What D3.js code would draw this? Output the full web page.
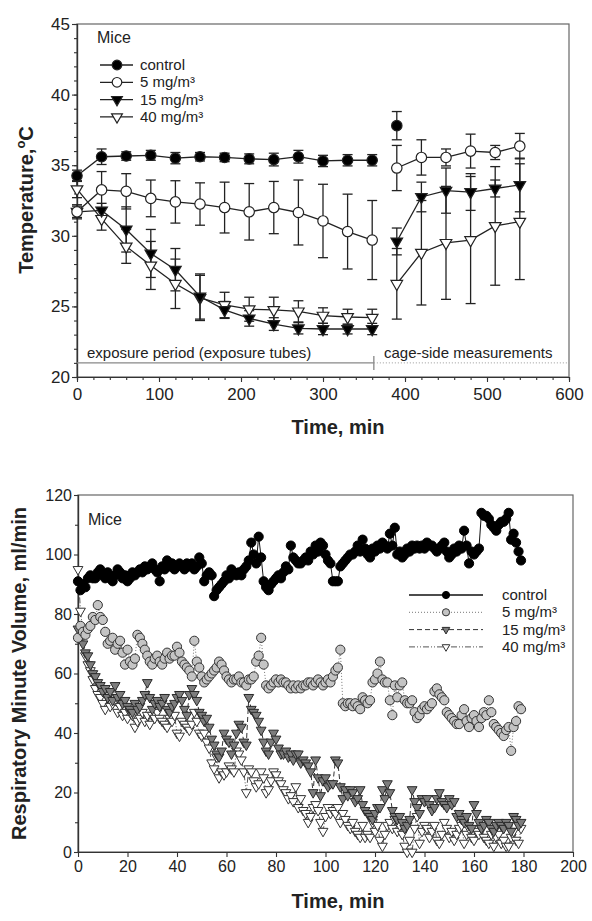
<!DOCTYPE html>
<html>
<head>
<meta charset="utf-8">
<script src="https://cdn.jsdelivr.net/npm/d3@7"></script>
<style>
  body { margin: 0; background: #fff; }
  svg { display: block; font-family: "Liberation Sans", Arial, sans-serif; }
</style>
</head>
<body>
<svg id="chart" width="592" height="921"></svg>
<script>
// ---- top panel: body temperature (mean ± SD) ----
const tempTimes = [0, 30, 60, 90, 120, 150, 180, 210, 240, 270, 300, 330, 360, 390, 420, 450, 480, 510, 540];
const controlTemp = [34.25, 35.6, 35.65, 35.7, 35.5, 35.6, 35.55, 35.45, 35.4, 35.6, 35.3, 35.35, 35.35, 37.8, null, null, null, null, null];
const controlTempErr = [0.4, 0.55, 0.3, 0.35, 0.4, 0.3, 0.3, 0.35, 0.45, 0.45, 0.4, 0.4, 0.4, 1.0, null, null, null, null, null];
const mg5Temp = [31.7, 33.25, 33.15, 32.65, 32.4, 32.25, 32.0, 31.7, 32.0, 31.65, 31.05, 30.3, 29.7, 34.8, 35.55, 35.55, 36.0, 35.9, 36.35];
const mg5TempErr = [0.5, 1.3, 1.25, 1.3, 1.5, 1.5, 1.8, 2.0, 1.85, 2.3, 2.6, 2.65, 2.8, 1.6, 1.25, 0.6, 1.2, 0.5, 0.9];
const mg15Temp = [31.7, 31.8, 30.45, 28.75, 27.6, 25.7, 24.75, 24.15, 23.75, 23.45, 23.4, 23.4, 23.4, 29.6, 32.75, 33.2, 33.1, 33.35, 33.6];
const mg15TempErr = [0.4, 0.5, 1.6, 1.7, 1.5, 1.6, 0.6, 0.55, 0.45, 0.4, 0.4, 0.35, 0.4, 0.95, 1.05, 1.6, 1.3, 0.6, 1.9];
const mg40Temp = [33.3, 31.2, 29.25, 27.9, 26.6, 25.6, 25.1, 24.8, 24.75, 24.65, 24.35, 24.25, 24.2, 26.6, 28.8, 29.5, 29.7, 30.7, 31.0];
const mg40TempErr = [0.6, 0.8, 1.2, 1.7, 1.75, 1.6, 0.9, 0.85, 0.9, 0.75, 0.55, 0.55, 0.6, 2.5, 3.7, 4.0, 4.5, 4.2, 4.1];
const tempSegments = [[0, 12], [13, 18]]; // exposure tubes | cage-side
const tempXTicks = [0, 100, 200, 300, 400, 500, 600];
const tempYTicks = [20, 25, 30, 35, 40, 45];

// ---- bottom panel: respiratory minute volume, one value per minute ----
const rmvMinutes = d3.range(180);
const controlRmv = [
  91, 88, 90, 89, 92, 93, 92, 92, 94, 95,
  93, 92, 94, 92, 91, 93, 95, 94, 92, 93,
  91, 92, 94, 93, 94, 95, 94, 96, 95, 96,
  97, 95, 94, 91, 96, 95, 98, 96, 97, 95,
  96, 97, 96, 95, 97, 96, 97, 95, 96, 99,
  97, 91, 93, 94, 93, 86, 88, 89, 90, 91,
  93, 92, 95, 94, 93, 94, 93, 95, 96, 98,
  104, 100, 97, 106, 99, 91, 89, 88, 90, 91,
  92, 93, 92, 94, 96, 95, 103, 99, 98, 97,
  97, 98, 99, 98, 101, 100, 103, 101, 104, 103,
  100, 98, 97, 91, 91, 91, 96, 97, 98, 99,
  100, 100, 101, 103, 101, 105, 102, 100, 99, 102,
  101, 103, 102, 104, 103, 102, 107, 103, 109, 100,
  101, 99, 100, 102, 101, 103, 102, 103, 102, 103,
  102, 104, 103, 103, 102, 101, 102, 103, 104, 101,
  99, 100, 102, 101, 103, 102, 108, 103, 97, 101,
  100, 101, 102, 114, 113, 113, 112, 110, 109, 108,
  110, 111, 111, 112, 114, 105, 107, 104, 101, 98
];
const mg5Rmv = [
  72, 76, 74, 73, 75, 76, 79, 78, 83, 79,
  78, 74, 70, 71, 72, 68, 70, 71, 67, 63,
  68, 64, 63, 65, 73, 72, 70, 68, 66, 64,
  63, 65, 66, 64, 63, 65, 67, 65, 66, 66,
  69, 67, 64, 63, 62, 61, 59, 71, 64, 62,
  59, 57, 58, 59, 60, 61, 62, 64, 63, 61,
  59, 58, 57, 58, 58, 59, 57, 57, 56, 58,
  58, 59, 64, 66, 72, 63, 56, 55, 56, 57,
  58, 57, 58, 57, 57, 56, 55, 56, 55, 56,
  55, 56, 56, 57, 57, 56, 57, 58, 57, 56,
  57, 58, 57, 59, 61, 62, 68, 50, 49, 50,
  50, 49, 50, 49, 48, 52, 51, 50, 51, 57,
  58, 60, 64, 58, 57, 57, 51, 46, 56, 52,
  56, 57, 51, 50, 50, 51, 47, 45, 46, 48,
  49, 48, 49, 50, 54, 55, 53, 52, 51, 47,
  46, 45, 44, 43, 43, 46, 48, 44, 42, 45,
  46, 44, 42, 45, 47, 46, 51, 47, 43, 42,
  41, 40, 39, 41, 42, 34, 42, 44, 49, 48
];
const mg15Rmv = [
  75, 72, 70, 67, 66, 63, 60, 59, 57, 56,
  54, 55, 52, 54, 51, 56, 52, 53, 50, 51,
  49, 48, 47, 50, 48, 49, 51, 53, 57, 52,
  48, 50, 51, 49, 50, 52, 48, 47, 49, 50,
  52, 53, 51, 48, 46, 53, 55, 53, 51, 47,
  46, 44, 45, 42, 38, 36, 33, 32, 34, 40,
  38, 37, 33, 36, 40, 43, 42, 37, 36, 52,
  48, 47, 46, 44, 41, 37, 34, 33, 37, 40,
  38, 35, 33, 33, 34, 32, 33, 31, 33, 33,
  30, 31, 30, 29, 27, 20, 31, 25, 19, 24,
  25, 22, 23, 23, 31, 30, 22, 18, 21, 19,
  21, 20, 17, 18, 21, 16, 14, 13, 12, 11,
  13, 15, 15, 21, 18, 23, 20, 14, 12, 11,
  12, 10, 8, 9, 11, 21, 17, 15, 13, 18,
  17, 18, 16, 14, 15, 18, 20, 17, 16, 15,
  18, 16, 17, 12, 13, 11, 10, 12, 9, 8,
  16, 13, 10, 8, 9, 11, 10, 8, 7, 9,
  10, 9, 8, 10, 9, 7, 12, 11, 9, 10
];
const mg40Rmv = [
  95, 81, 74, 66, 63, 61, 58, 55, 53, 52,
  50, 48, 52, 49, 50, 51, 47, 49, 46, 47,
  45, 47, 46, 42, 44, 45, 47, 44, 46, 43,
  46, 45, 47, 45, 44, 43, 42, 45, 44, 46,
  40, 39, 44, 43, 42, 41, 43, 47, 44, 40,
  39, 40, 37, 35, 30, 28, 32, 25, 27, 26,
  27, 29, 28, 27, 34, 33, 31, 27, 20, 28,
  27, 24, 22, 23, 27, 25, 20, 21, 24, 27,
  26, 24, 23, 21, 20, 18, 19, 17, 22, 15,
  18, 14, 13, 10, 12, 15, 16, 14, 10, 7,
  12, 15, 13, 14, 13, 15, 10, 13, 11, 9,
  8, 10, 7, 6, 5, 9, 5, 6, 5, 10,
  7, 9, 4, 2, 6, 9, 10, 8, 11, 7,
  9, 6, 2, 0, 4, 0, 8, 12, 3, 7,
  9, 8, 5, 7, 9, 4, 3, 6, 10, 8,
  5, 7, 4, 6, 8, 9, 3, 6, 8, 5,
  4, 7, 6, 8, 5, 4, 3, 6, 2, 5,
  6, 3, 4, 2, 2, 5, 7, 4, 3, 8
];
const rmvXTicks = [0, 20, 40, 60, 80, 100, 120, 140, 160, 180, 200];
const rmvYTicks = [0, 20, 40, 60, 80, 100, 120];

const seriesNames = ["control", "5 mg/m³", "15 mg/m³", "40 mg/m³"];

const svg = d3.select("#chart");
const ink = "#222";

const shapePath = (shape, r) => {
  if (shape === "circle") return `M${r},0A${r},${r} 0 1,1 ${-r},0A${r},${r} 0 1,1 ${r},0Z`;
  const h = r * Math.sqrt(3);
  return `M${-r},${-h / 3}L${r},${-h / 3}L0,${(2 * h) / 3}Z`;
};

function styleAxis(g, size) {
  g.select(".domain").attr("stroke", "#333").attr("stroke-width", 1.2);
  g.selectAll(".tick line").attr("stroke", "#333").attr("stroke-width", 1.1);
  g.selectAll("text").attr("font-size", size).attr("fill", ink)
    .attr("font-family", "'Liberation Sans', Arial, sans-serif");
}

// ══════════ Top panel ══════════
const tx = d3.scaleLinear().domain([0, 600]).range([77, 569]);
const ty = d3.scaleLinear().domain([20, 45]).range([377, 24]);

svg.append("rect")
  .attr("x", tx(0)).attr("y", ty(45))
  .attr("width", tx(600) - tx(0)).attr("height", ty(20) - ty(45))
  .attr("fill", "none").attr("stroke", "#666").attr("stroke-width", 1.2);

// minor ticks
svg.append("g").attr("transform", `translate(0,${ty(20)})`)
  .call(d3.axisBottom(tx).tickValues(d3.range(0, 601, 20)).tickSize(3).tickFormat(""))
  .call(g => styleAxis(g, 17));
svg.append("g").attr("transform", `translate(${tx(0)},0)`)
  .call(d3.axisLeft(ty).tickValues(d3.range(20, 46, 1)).tickSize(3).tickFormat(""))
  .call(g => styleAxis(g, 17));
// major ticks
svg.append("g").attr("transform", `translate(0,${ty(20)})`)
  .call(d3.axisBottom(tx).tickValues(tempXTicks).tickSize(5).tickPadding(6).tickSizeOuter(0))
  .call(g => styleAxis(g, 17));
svg.append("g").attr("transform", `translate(${tx(0)},0)`)
  .call(d3.axisLeft(ty).tickValues(tempYTicks).tickSize(5).tickPadding(2).tickSizeOuter(0))
  .call(g => styleAxis(g, 17));

// exposure annotation
const annY = ty(21);
svg.append("line").attr("x1", tx(0)).attr("x2", tx(362)).attr("y1", annY).attr("y2", annY)
  .attr("stroke", "#888").attr("stroke-width", 1.3);
svg.append("line").attr("x1", tx(362)).attr("x2", tx(362)).attr("y1", annY - 7).attr("y2", annY + 7)
  .attr("stroke", "#888").attr("stroke-width", 1.3);
svg.append("line").attr("x1", tx(362)).attr("x2", tx(600)).attr("y1", annY).attr("y2", annY)
  .attr("stroke", "#999").attr("stroke-width", 1).attr("stroke-dasharray", "1,2");
svg.append("text").attr("x", 87).attr("y", annY - 5).attr("font-size", 15).attr("fill", ink)
  .text("exposure period (exposure tubes)");
svg.append("text").attr("x", 384).attr("y", annY - 5).attr("font-size", 15).attr("fill", ink)
  .text("cage-side measurements");

const topSeries = [
  { mean: mg40Temp, err: mg40TempErr, shape: "tri", fill: "#fff" },
  { mean: mg15Temp, err: mg15TempErr, shape: "tri", fill: "#000" },
  { mean: mg5Temp, err: mg5TempErr, shape: "circle", fill: "#fff" },
  { mean: controlTemp, err: controlTempErr, shape: "circle", fill: "#000" }
];

// error bars
topSeries.forEach(s => {
  const g = svg.append("g").attr("stroke", ink).attr("stroke-width", 1.3);
  tempTimes.forEach((t, i) => {
    if (s.mean[i] == null) return;
    const x = tx(t), lo = ty(s.mean[i] - s.err[i]), hi = ty(s.mean[i] + s.err[i]);
    g.append("line").attr("x1", x).attr("x2", x).attr("y1", lo).attr("y2", hi);
    g.append("line").attr("x1", x - 5).attr("x2", x + 5).attr("y1", lo).attr("y2", lo);
    g.append("line").attr("x1", x - 5).attr("x2", x + 5).attr("y1", hi).attr("y2", hi);
  });
});

// connecting lines
const tempLine = d3.line().defined(d => d.v != null).x(d => tx(d.t)).y(d => ty(d.v));
topSeries.forEach(s => {
  tempSegments.forEach(([a, b]) => {
    const pts = tempTimes.slice(a, b + 1).map((t, k) => ({ t, v: s.mean[a + k] }));
    svg.append("path").attr("d", tempLine(pts))
      .attr("fill", "none").attr("stroke", ink).attr("stroke-width", 1.3);
  });
});

// markers
topSeries.forEach(s => {
  svg.append("g").selectAll("path")
    .data(tempTimes.map((t, i) => ({ t, v: s.mean[i] })).filter(d => d.v != null))
    .join("path")
    .attr("transform", d => `translate(${tx(d.t)},${ty(d.v)})`)
    .attr("d", shapePath(s.shape, s.shape === "circle" ? 5.2 : 5.8))
    .attr("fill", s.fill).attr("stroke", ink).attr("stroke-width", 1.2);
});

// legend + labels
svg.append("text").attr("x", 97).attr("y", 43).attr("font-size", 16).attr("fill", ink).text("Mice");
const topLegendStyle = [
  { shape: "circle", fill: "#000" }, { shape: "circle", fill: "#fff" },
  { shape: "tri", fill: "#000" }, { shape: "tri", fill: "#fff" }
];
seriesNames.forEach((name, i) => {
  const yy = 65 + i * 17.3;
  svg.append("line").attr("x1", 100).attr("x2", 133).attr("y1", yy).attr("y2", yy)
    .attr("stroke", ink).attr("stroke-width", 1.3);
  svg.append("path").attr("transform", `translate(117,${yy})`)
    .attr("d", shapePath(topLegendStyle[i].shape, topLegendStyle[i].shape === "circle" ? 4.8 : 5.4))
    .attr("fill", topLegendStyle[i].fill).attr("stroke", ink).attr("stroke-width", 1.2);
  svg.append("text").attr("x", 140).attr("y", yy + 5).attr("font-size", 15).attr("fill", ink).text(name);
});

const tLabel = svg.append("text").attr("transform", "translate(33,200) rotate(-90)")
  .attr("text-anchor", "middle").attr("font-size", 20).attr("font-weight", "bold").attr("fill", ink);
tLabel.append("tspan").text("Temperature,");
tLabel.append("tspan").attr("font-size", 13).attr("dy", -8).text("o");
tLabel.append("tspan").attr("dy", 8).text("C");

svg.append("text").attr("x", 338).attr("y", 434).attr("text-anchor", "middle")
  .attr("font-size", 20).attr("font-weight", "bold").attr("fill", ink).text("Time, min");

// ══════════ Bottom panel ══════════
const bx = d3.scaleLinear().domain([0, 200]).range([78, 573]);
const by = d3.scaleLinear().domain([0, 120]).range([852, 495]);

svg.append("rect")
  .attr("x", bx(0)).attr("y", by(120))
  .attr("width", bx(200) - bx(0)).attr("height", by(0) - by(120))
  .attr("fill", "none").attr("stroke", "#666").attr("stroke-width", 1.2);

svg.append("g").attr("transform", `translate(${bx(0)},0)`)
  .call(d3.axisLeft(by).tickValues(d3.range(10, 120, 20)).tickSize(3).tickFormat(""))
  .call(g => styleAxis(g, 16));
svg.append("g").attr("transform", `translate(0,${by(0)})`)
  .call(d3.axisBottom(bx).tickValues(rmvXTicks).tickSize(5).tickPadding(4).tickSizeOuter(0))
  .call(g => styleAxis(g, 16));
svg.append("g").attr("transform", `translate(${bx(0)},0)`)
  .call(d3.axisLeft(by).tickValues(rmvYTicks).tickSize(4).tickPadding(2).tickSizeOuter(0))
  .call(g => styleAxis(g, 16));

const bottomSeries = [
  { values: mg40Rmv, shape: "tri", fill: "#fff", stroke: "#333", line: "#555", dash: "6,2,1,2,1,2" },
  { values: mg15Rmv, shape: "tri", fill: "#7d7d7d", stroke: "#2a2a2a", line: "#333", dash: "5,3" },
  { values: mg5Rmv, shape: "circle", fill: "#c4c4c4", stroke: "#333", line: "#777", dash: "1,2" },
  { values: controlRmv, shape: "circle", fill: "#000", stroke: "#000", line: "#111", dash: null }
];

const rmvLine = d3.line().x(d => bx(d.t)).y(d => by(d.v));
bottomSeries.forEach(s => {
  const pts = rmvMinutes.map((t, i) => ({ t, v: s.values[i] }));
  svg.append("path").attr("d", rmvLine(pts))
    .attr("fill", "none").attr("stroke", s.line).attr("stroke-width", 1)
    .attr("stroke-dasharray", s.dash);
  svg.append("g").selectAll("path").data(pts).join("path")
    .attr("transform", d => `translate(${bx(d.t)},${by(d.v)})`)
    .attr("d", shapePath(s.shape, s.shape === "circle" ? 4.6 : 4.9))
    .attr("fill", s.fill).attr("stroke", s.stroke).attr("stroke-width", 1);
});

svg.append("text").attr("x", 88).attr("y", 525).attr("font-size", 16).attr("fill", ink).text("Mice");

const legendOrder = [3, 2, 1, 0];
seriesNames.forEach((name, i) => {
  const s = bottomSeries[legendOrder[i]];
  const yy = 595 + i * 17.3;
  svg.append("line").attr("x1", 409).attr("x2", 483).attr("y1", yy).attr("y2", yy)
    .attr("stroke", s.line).attr("stroke-width", i === 0 ? 1.4 : 1).attr("stroke-dasharray", s.dash);
  svg.append("path").attr("transform", `translate(446,${yy})`)
    .attr("d", shapePath(s.shape, s.shape === "circle" ? 3.6 : 3.8))
    .attr("fill", s.fill).attr("stroke", s.stroke).attr("stroke-width", 1);
  svg.append("text").attr("x", 502).attr("y", yy + 5).attr("font-size", 15).attr("fill", ink).text(name);
});

svg.append("text").attr("transform", `translate(26,${(by(0) + by(120)) / 2}) rotate(-90)`)
  .attr("text-anchor", "middle").attr("font-size", 20).attr("font-weight", "bold").attr("fill", ink)
  .text("Respiratory Minute Volume, ml/min");

svg.append("text").attr("x", 338).attr("y", 908).attr("text-anchor", "middle")
  .attr("font-size", 20).attr("font-weight", "bold").attr("fill", ink).text("Time, min");
</script>
</body>
</html>
